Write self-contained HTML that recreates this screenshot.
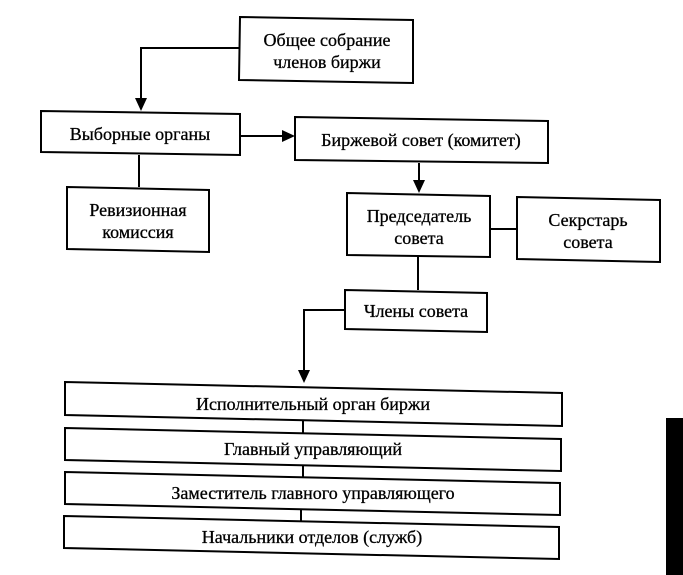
<!DOCTYPE html>
<html><head><meta charset="utf-8"><style>
html,body{margin:0;padding:0;background:#fff;}
svg{display:block;}
text{font-family:"Liberation Serif","DejaVu Serif",serif;font-size:18px;fill:#000;text-anchor:middle;stroke:#000;stroke-width:0.3;}
</style></head><body>
<svg width="683" height="575" viewBox="0 0 683 575" xmlns="http://www.w3.org/2000/svg">
<g fill="none" stroke="#000" stroke-width="2">
<polygon points="240,17 413,20 413,83 239,80"/>
<polygon points="41,111 240,114 240,155 41,152"/>
<polygon points="295,117 548,121 548,163 295,160"/>
<polygon points="67,187 209,190 209,252 67,249"/>
<polygon points="347,193 490,196 490,257 347,255"/>
<polygon points="517,197 660,200 660,262 517,259"/>
<polygon points="345,290 487,293 487,332 345,329"/>
<polygon points="65,382 562,393 562,426 65,415"/>
<polygon points="65,428 561,439 561,471 65,460"/>
<polygon points="65,472 560,483 560,515 65,504"/>
<polygon points="64,516 559,527 559,559 64,548"/>
<polyline points="240,48 141,48 141,100"/>
<polyline points="240,136 283,136"/>
<line x1="139" y1="155" x2="139" y2="187"/>
<line x1="419" y1="163" x2="419" y2="182"/>
<line x1="490" y1="229" x2="517" y2="229"/>
<line x1="418" y1="257" x2="418" y2="290"/>
<polyline points="345,310 304,310 304,372"/>
<line x1="303" y1="421" x2="303" y2="433"/>
<line x1="303" y1="466" x2="303" y2="477"/>
<line x1="301" y1="510" x2="301" y2="521"/>
</g>
<g fill="#000">
<polygon points="135,98 147,98 141,111"/>
<polygon points="282,130 282,142 295,136"/>
<polygon points="413,180 425,180 419,193"/>
<polygon points="298,370 310,370 304,383"/>
<rect x="666" y="418" width="17" height="157"/>
</g>
<text x="327" y="46">Общее собрание</text>
<text x="327" y="68">членов биржи</text>
<text x="140" y="140">Выборные органы</text>
<text x="421" y="146">Биржевой совет (комитет)</text>
<text x="138" y="216">Ревизионная</text>
<text x="138" y="238">комиссия</text>
<text x="419" y="222">Председатель</text>
<text x="419" y="244">совета</text>
<text x="588" y="226">Секрстарь</text>
<text x="588" y="248">совета</text>
<text x="416" y="317">Члены совета</text>
<text x="313" y="410">Исполнительный орган биржи</text>
<text x="313" y="455">Главный управляющий</text>
<text x="313" y="499">Заместитель главного управляющего</text>
<text x="312" y="543">Начальники отделов (служб)</text>
</svg>
</body></html>
